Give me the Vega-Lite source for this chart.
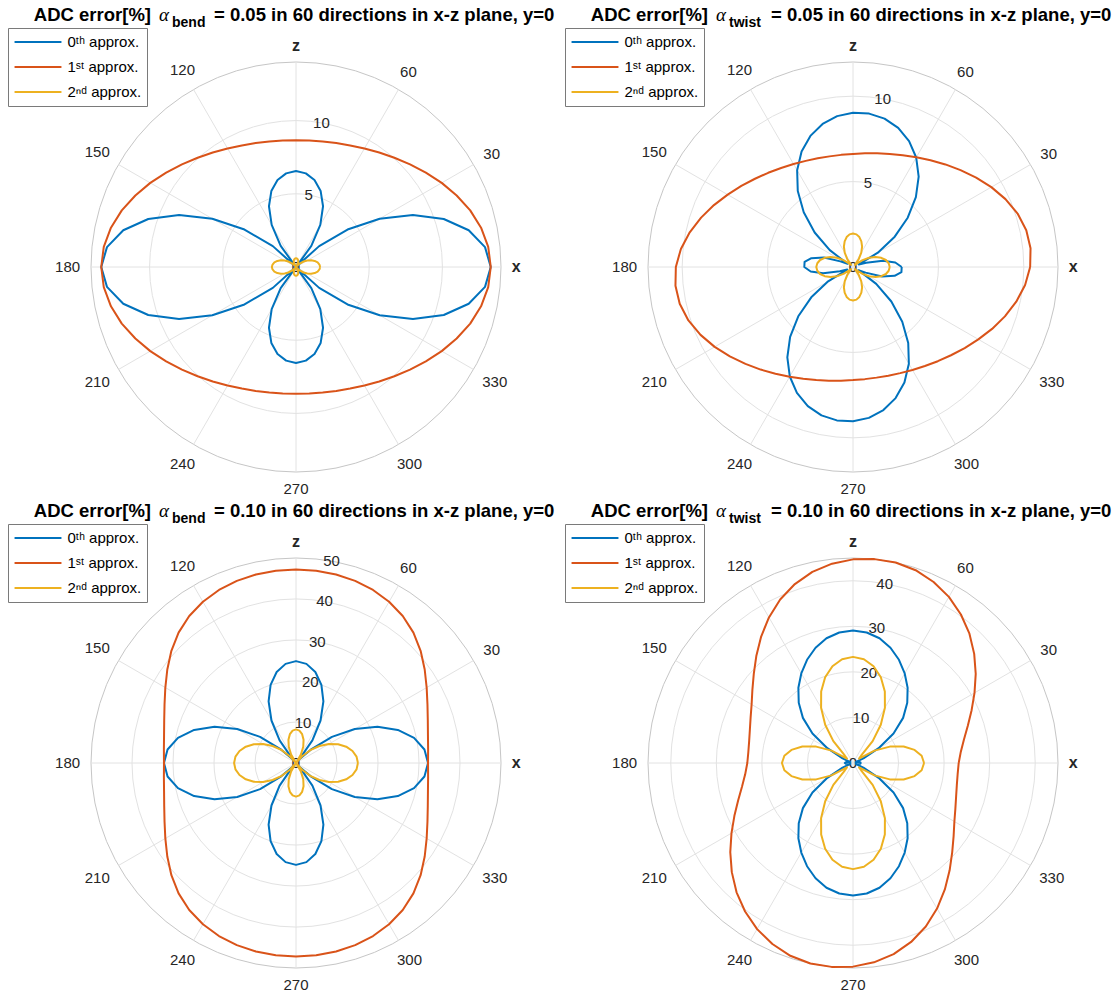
{
"$schema": "https://vega.github.io/schema/vega-lite/v6.json",
"padding": {"left": 7, "top": 6, "right": 5, "bottom": 5},
"background": "white",
"config": {"view": {"stroke": null}, "font": "Liberation Sans"},
"columns": 2,
"spacing": {"row": 86, "column": 147},
"bounds": "flush",
"resolve": {"scale": {"x": "independent", "y": "independent", "color": "independent", "size": "independent"}, "legend": {"color": "independent"}},
"datasets": {
"g": [{"p":1,"r":5,"o":0},{"p":1,"r":10,"o":0},{"p":1,"r":14,"o":1},{"p":2,"r":5,"o":0},{"p":2,"r":10,"o":0},{"p":2,"r":12,"o":1},{"p":3,"r":10,"o":0},{"p":3,"r":20,"o":0},{"p":3,"r":30,"o":0},{"p":3,"r":40,"o":0},{"p":3,"r":50,"o":1},{"p":4,"r":10,"o":0},{"p":4,"r":20,"o":0},{"p":4,"r":30,"o":0},{"p":4,"r":40,"o":0},{"p":4,"r":45,"o":1}],
"sp": [{"t":0},{"t":30},{"t":60},{"t":90},{"t":120},{"t":150},{"t":180},{"t":210},{"t":240},{"t":270},{"t":300},{"t":330}],
"al": [{"t":0,"l":"x","b":1},{"t":30,"l":"30","b":0},{"t":60,"l":"60","b":0},{"t":90,"l":"z","b":1},{"t":120,"l":"120","b":0},{"t":150,"l":"150","b":0},{"t":180,"l":"180","b":0},{"t":210,"l":"210","b":0},{"t":240,"l":"240","b":0},{"t":270,"l":"270","b":0},{"t":300,"l":"300","b":0},{"t":330,"l":"330","b":0}],
"rt": [{"p":1,"v":0,"l":"0"},{"p":1,"v":5,"l":"5"},{"p":1,"v":10,"l":"10"},{"p":2,"v":0,"l":"0"},{"p":2,"v":5,"l":"5"},{"p":2,"v":10,"l":"10"},{"p":3,"v":0,"l":"0"},{"p":3,"v":10,"l":"10"},{"p":3,"v":20,"l":"20"},{"p":3,"v":30,"l":"30"},{"p":3,"v":40,"l":"40"},{"p":3,"v":50,"l":"50"},{"p":4,"v":0,"l":"0"},{"p":4,"v":10,"l":"10"},{"p":4,"v":20,"l":"20"},{"p":4,"v":30,"l":"30"},{"p":4,"v":40,"l":"40"}],
"tt": [{"p":1,"k":"a","l":"ADC error[%]"},{"p":1,"k":"g","l":"α"},{"p":1,"k":"s","l":"bend"},{"p":1,"k":"r","l":"= 0.05 in 60 directions in x-z plane, y=0"},{"p":2,"k":"a","l":"ADC error[%]"},{"p":2,"k":"g","l":"α"},{"p":2,"k":"s","l":"twist"},{"p":2,"k":"r","l":"= 0.05 in 60 directions in x-z plane, y=0"},{"p":3,"k":"a","l":"ADC error[%]"},{"p":3,"k":"g","l":"α"},{"p":3,"k":"s","l":"bend"},{"p":3,"k":"r","l":"= 0.10 in 60 directions in x-z plane, y=0"},{"p":4,"k":"a","l":"ADC error[%]"},{"p":4,"k":"g","l":"α"},{"p":4,"k":"s","l":"twist"},{"p":4,"k":"r","l":"= 0.10 in 60 directions in x-z plane, y=0"}],
"c": [
{"p":1,"s":0,"a":0,"r":13.3},{"p":1,"s":0,"a":6,"r":12.98},{"p":1,"s":0,"a":12,"r":12.06},{"p":1,"s":0,"a":18,"r":10.61},{"p":1,"s":0,"a":24,"r":8.74},{"p":1,"s":0,"a":30,"r":6.6},{"p":1,"s":0,"a":36,"r":4.35},{"p":1,"s":0,"a":42,"r":2.13},{"p":1,"s":0,"a":48,"r":0.05},{"p":1,"s":0,"a":54,"r":1.78},{"p":1,"s":0,"a":60,"r":3.32},{"p":1,"s":0,"a":66,"r":4.54},{"p":1,"s":0,"a":72,"r":5.45},{"p":1,"s":0,"a":78,"r":6.07},{"p":1,"s":0,"a":84,"r":6.43},{"p":1,"s":0,"a":90,"r":6.55},
{"p":1,"s":0,"a":96,"r":6.43},{"p":1,"s":0,"a":102,"r":6.07},{"p":1,"s":0,"a":108,"r":5.45},{"p":1,"s":0,"a":114,"r":4.54},{"p":1,"s":0,"a":120,"r":3.32},{"p":1,"s":0,"a":126,"r":1.78},{"p":1,"s":0,"a":132,"r":0.05},{"p":1,"s":0,"a":138,"r":2.13},{"p":1,"s":0,"a":144,"r":4.35},{"p":1,"s":0,"a":150,"r":6.6},{"p":1,"s":0,"a":156,"r":8.74},{"p":1,"s":0,"a":162,"r":10.61},{"p":1,"s":0,"a":168,"r":12.06},{"p":1,"s":0,"a":174,"r":12.98},{"p":1,"s":0,"a":180,"r":13.3},
{"p":1,"s":0,"a":186,"r":12.98},{"p":1,"s":0,"a":192,"r":12.06},{"p":1,"s":0,"a":198,"r":10.61},{"p":1,"s":0,"a":204,"r":8.74},{"p":1,"s":0,"a":210,"r":6.6},{"p":1,"s":0,"a":216,"r":4.35},{"p":1,"s":0,"a":222,"r":2.13},{"p":1,"s":0,"a":228,"r":0.05},{"p":1,"s":0,"a":234,"r":1.78},{"p":1,"s":0,"a":240,"r":3.32},{"p":1,"s":0,"a":246,"r":4.54},{"p":1,"s":0,"a":252,"r":5.45},{"p":1,"s":0,"a":258,"r":6.07},{"p":1,"s":0,"a":264,"r":6.43},{"p":1,"s":0,"a":270,"r":6.55},
{"p":1,"s":0,"a":276,"r":6.43},{"p":1,"s":0,"a":282,"r":6.07},{"p":1,"s":0,"a":288,"r":5.45},{"p":1,"s":0,"a":294,"r":4.54},{"p":1,"s":0,"a":300,"r":3.32},{"p":1,"s":0,"a":306,"r":1.78},{"p":1,"s":0,"a":312,"r":0.05},{"p":1,"s":0,"a":318,"r":2.13},{"p":1,"s":0,"a":324,"r":4.35},{"p":1,"s":0,"a":330,"r":6.6},{"p":1,"s":0,"a":336,"r":8.74},{"p":1,"s":0,"a":342,"r":10.61},{"p":1,"s":0,"a":348,"r":12.06},{"p":1,"s":0,"a":354,"r":12.98},{"p":1,"s":0,"a":360,"r":13.3},
{"p":1,"s":1,"a":0,"r":13.3},{"p":1,"s":1,"a":6,"r":13.2},{"p":1,"s":1,"a":12,"r":12.92},{"p":1,"s":1,"a":18,"r":12.51},{"p":1,"s":1,"a":24,"r":12.01},{"p":1,"s":1,"a":30,"r":11.49},{"p":1,"s":1,"a":36,"r":10.96},{"p":1,"s":1,"a":42,"r":10.48},{"p":1,"s":1,"a":48,"r":10.04},{"p":1,"s":1,"a":54,"r":9.67},{"p":1,"s":1,"a":60,"r":9.35},{"p":1,"s":1,"a":66,"r":9.09},{"p":1,"s":1,"a":72,"r":8.9},{"p":1,"s":1,"a":78,"r":8.76},{"p":1,"s":1,"a":84,"r":8.68},{"p":1,"s":1,"a":90,"r":8.65},
{"p":1,"s":1,"a":96,"r":8.68},{"p":1,"s":1,"a":102,"r":8.76},{"p":1,"s":1,"a":108,"r":8.9},{"p":1,"s":1,"a":114,"r":9.09},{"p":1,"s":1,"a":120,"r":9.35},{"p":1,"s":1,"a":126,"r":9.67},{"p":1,"s":1,"a":132,"r":10.04},{"p":1,"s":1,"a":138,"r":10.48},{"p":1,"s":1,"a":144,"r":10.96},{"p":1,"s":1,"a":150,"r":11.49},{"p":1,"s":1,"a":156,"r":12.01},{"p":1,"s":1,"a":162,"r":12.51},{"p":1,"s":1,"a":168,"r":12.92},{"p":1,"s":1,"a":174,"r":13.2},{"p":1,"s":1,"a":180,"r":13.3},
{"p":1,"s":1,"a":186,"r":13.2},{"p":1,"s":1,"a":192,"r":12.92},{"p":1,"s":1,"a":198,"r":12.51},{"p":1,"s":1,"a":204,"r":12.01},{"p":1,"s":1,"a":210,"r":11.49},{"p":1,"s":1,"a":216,"r":10.96},{"p":1,"s":1,"a":222,"r":10.48},{"p":1,"s":1,"a":228,"r":10.04},{"p":1,"s":1,"a":234,"r":9.67},{"p":1,"s":1,"a":240,"r":9.35},{"p":1,"s":1,"a":246,"r":9.09},{"p":1,"s":1,"a":252,"r":8.9},{"p":1,"s":1,"a":258,"r":8.76},{"p":1,"s":1,"a":264,"r":8.68},{"p":1,"s":1,"a":270,"r":8.65},
{"p":1,"s":1,"a":276,"r":8.68},{"p":1,"s":1,"a":282,"r":8.76},{"p":1,"s":1,"a":288,"r":8.9},{"p":1,"s":1,"a":294,"r":9.09},{"p":1,"s":1,"a":300,"r":9.35},{"p":1,"s":1,"a":306,"r":9.67},{"p":1,"s":1,"a":312,"r":10.04},{"p":1,"s":1,"a":318,"r":10.48},{"p":1,"s":1,"a":324,"r":10.96},{"p":1,"s":1,"a":330,"r":11.49},{"p":1,"s":1,"a":336,"r":12.01},{"p":1,"s":1,"a":342,"r":12.51},{"p":1,"s":1,"a":348,"r":12.92},{"p":1,"s":1,"a":354,"r":13.2},{"p":1,"s":1,"a":360,"r":13.3},
{"p":1,"s":2,"a":0,"r":1.65},{"p":1,"s":2,"a":6,"r":1.61},{"p":1,"s":2,"a":12,"r":1.51},{"p":1,"s":2,"a":18,"r":1.34},{"p":1,"s":2,"a":24,"r":1.13},{"p":1,"s":2,"a":30,"r":0.89},{"p":1,"s":2,"a":36,"r":0.64},{"p":1,"s":2,"a":42,"r":0.38},{"p":1,"s":2,"a":48,"r":0.15},{"p":1,"s":2,"a":54,"r":0.06},{"p":1,"s":2,"a":60,"r":0.23},{"p":1,"s":2,"a":66,"r":0.37},{"p":1,"s":2,"a":72,"r":0.48},{"p":1,"s":2,"a":78,"r":0.55},{"p":1,"s":2,"a":84,"r":0.59},{"p":1,"s":2,"a":90,"r":0.6},
{"p":1,"s":2,"a":96,"r":0.59},{"p":1,"s":2,"a":102,"r":0.55},{"p":1,"s":2,"a":108,"r":0.48},{"p":1,"s":2,"a":114,"r":0.37},{"p":1,"s":2,"a":120,"r":0.23},{"p":1,"s":2,"a":126,"r":0.06},{"p":1,"s":2,"a":132,"r":0.15},{"p":1,"s":2,"a":138,"r":0.38},{"p":1,"s":2,"a":144,"r":0.64},{"p":1,"s":2,"a":150,"r":0.89},{"p":1,"s":2,"a":156,"r":1.13},{"p":1,"s":2,"a":162,"r":1.34},{"p":1,"s":2,"a":168,"r":1.51},{"p":1,"s":2,"a":174,"r":1.61},{"p":1,"s":2,"a":180,"r":1.65},
{"p":1,"s":2,"a":186,"r":1.61},{"p":1,"s":2,"a":192,"r":1.51},{"p":1,"s":2,"a":198,"r":1.34},{"p":1,"s":2,"a":204,"r":1.13},{"p":1,"s":2,"a":210,"r":0.89},{"p":1,"s":2,"a":216,"r":0.64},{"p":1,"s":2,"a":222,"r":0.38},{"p":1,"s":2,"a":228,"r":0.15},{"p":1,"s":2,"a":234,"r":0.06},{"p":1,"s":2,"a":240,"r":0.23},{"p":1,"s":2,"a":246,"r":0.37},{"p":1,"s":2,"a":252,"r":0.48},{"p":1,"s":2,"a":258,"r":0.55},{"p":1,"s":2,"a":264,"r":0.59},{"p":1,"s":2,"a":270,"r":0.6},
{"p":1,"s":2,"a":276,"r":0.59},{"p":1,"s":2,"a":282,"r":0.55},{"p":1,"s":2,"a":288,"r":0.48},{"p":1,"s":2,"a":294,"r":0.37},{"p":1,"s":2,"a":300,"r":0.23},{"p":1,"s":2,"a":306,"r":0.06},{"p":1,"s":2,"a":312,"r":0.15},{"p":1,"s":2,"a":318,"r":0.38},{"p":1,"s":2,"a":324,"r":0.64},{"p":1,"s":2,"a":330,"r":0.89},{"p":1,"s":2,"a":336,"r":1.13},{"p":1,"s":2,"a":342,"r":1.34},{"p":1,"s":2,"a":348,"r":1.51},{"p":1,"s":2,"a":354,"r":1.61},{"p":1,"s":2,"a":360,"r":1.65},
{"p":2,"s":0,"a":0,"r":2.85},{"p":2,"s":0,"a":6,"r":2.49},{"p":2,"s":0,"a":12,"r":1.79},{"p":2,"s":0,"a":18,"r":0.81},{"p":2,"s":0,"a":24,"r":0.37},{"p":2,"s":0,"a":30,"r":1.68},{"p":2,"s":0,"a":36,"r":3.02},{"p":2,"s":0,"a":42,"r":4.31},{"p":2,"s":0,"a":48,"r":5.5},{"p":2,"s":0,"a":54,"r":6.54},{"p":2,"s":0,"a":60,"r":7.4},{"p":2,"s":0,"a":66,"r":8.07},{"p":2,"s":0,"a":72,"r":8.56},{"p":2,"s":0,"a":78,"r":8.88},{"p":2,"s":0,"a":84,"r":9.03},{"p":2,"s":0,"a":90,"r":9.03},
{"p":2,"s":0,"a":96,"r":8.88},{"p":2,"s":0,"a":102,"r":8.56},{"p":2,"s":0,"a":108,"r":8.07},{"p":2,"s":0,"a":114,"r":7.4},{"p":2,"s":0,"a":120,"r":6.54},{"p":2,"s":0,"a":126,"r":5.5},{"p":2,"s":0,"a":132,"r":4.31},{"p":2,"s":0,"a":138,"r":3.02},{"p":2,"s":0,"a":144,"r":1.68},{"p":2,"s":0,"a":150,"r":0.37},{"p":2,"s":0,"a":156,"r":0.81},{"p":2,"s":0,"a":162,"r":1.79},{"p":2,"s":0,"a":168,"r":2.49},{"p":2,"s":0,"a":174,"r":2.85},
{"p":2,"s":0,"a":180,"r":2.85},{"p":2,"s":0,"a":186,"r":2.49},{"p":2,"s":0,"a":192,"r":1.79},{"p":2,"s":0,"a":198,"r":0.81},{"p":2,"s":0,"a":204,"r":0.37},{"p":2,"s":0,"a":210,"r":1.68},{"p":2,"s":0,"a":216,"r":3.02},{"p":2,"s":0,"a":222,"r":4.31},{"p":2,"s":0,"a":228,"r":5.5},{"p":2,"s":0,"a":234,"r":6.54},{"p":2,"s":0,"a":240,"r":7.4},{"p":2,"s":0,"a":246,"r":8.07},{"p":2,"s":0,"a":252,"r":8.56},{"p":2,"s":0,"a":258,"r":8.88},{"p":2,"s":0,"a":264,"r":9.03},{"p":2,"s":0,"a":270,"r":9.03},
{"p":2,"s":0,"a":276,"r":8.88},{"p":2,"s":0,"a":282,"r":8.56},{"p":2,"s":0,"a":288,"r":8.07},{"p":2,"s":0,"a":294,"r":7.4},{"p":2,"s":0,"a":300,"r":6.54},{"p":2,"s":0,"a":306,"r":5.5},{"p":2,"s":0,"a":312,"r":4.31},{"p":2,"s":0,"a":318,"r":3.02},{"p":2,"s":0,"a":324,"r":1.68},{"p":2,"s":0,"a":330,"r":0.37},{"p":2,"s":0,"a":336,"r":0.81},{"p":2,"s":0,"a":342,"r":1.79},{"p":2,"s":0,"a":348,"r":2.49},{"p":2,"s":0,"a":354,"r":2.85},{"p":2,"s":0,"a":360,"r":2.85},
{"p":2,"s":1,"a":0,"r":10.37},{"p":2,"s":1,"a":6,"r":10.45},{"p":2,"s":1,"a":12,"r":10.37},{"p":2,"s":1,"a":18,"r":10.13},{"p":2,"s":1,"a":24,"r":9.77},{"p":2,"s":1,"a":30,"r":9.35},{"p":2,"s":1,"a":36,"r":8.91},{"p":2,"s":1,"a":42,"r":8.47},{"p":2,"s":1,"a":48,"r":8.08},{"p":2,"s":1,"a":54,"r":7.72},{"p":2,"s":1,"a":60,"r":7.42},{"p":2,"s":1,"a":66,"r":7.16},{"p":2,"s":1,"a":72,"r":6.96},{"p":2,"s":1,"a":78,"r":6.8},{"p":2,"s":1,"a":84,"r":6.69},{"p":2,"s":1,"a":90,"r":6.62},
{"p":2,"s":1,"a":96,"r":6.6},{"p":2,"s":1,"a":102,"r":6.62},{"p":2,"s":1,"a":108,"r":6.69},{"p":2,"s":1,"a":114,"r":6.8},{"p":2,"s":1,"a":120,"r":6.96},{"p":2,"s":1,"a":126,"r":7.16},{"p":2,"s":1,"a":132,"r":7.42},{"p":2,"s":1,"a":138,"r":7.72},{"p":2,"s":1,"a":144,"r":8.08},{"p":2,"s":1,"a":150,"r":8.47},{"p":2,"s":1,"a":156,"r":8.91},{"p":2,"s":1,"a":162,"r":9.35},{"p":2,"s":1,"a":168,"r":9.77},{"p":2,"s":1,"a":174,"r":10.13},
{"p":2,"s":1,"a":180,"r":10.37},{"p":2,"s":1,"a":186,"r":10.45},{"p":2,"s":1,"a":192,"r":10.37},{"p":2,"s":1,"a":198,"r":10.13},{"p":2,"s":1,"a":204,"r":9.77},{"p":2,"s":1,"a":210,"r":9.35},{"p":2,"s":1,"a":216,"r":8.91},{"p":2,"s":1,"a":222,"r":8.47},{"p":2,"s":1,"a":228,"r":8.08},{"p":2,"s":1,"a":234,"r":7.72},{"p":2,"s":1,"a":240,"r":7.42},{"p":2,"s":1,"a":246,"r":7.16},{"p":2,"s":1,"a":252,"r":6.96},{"p":2,"s":1,"a":258,"r":6.8},{"p":2,"s":1,"a":264,"r":6.69},{"p":2,"s":1,"a":270,"r":6.62},
{"p":2,"s":1,"a":276,"r":6.6},{"p":2,"s":1,"a":282,"r":6.62},{"p":2,"s":1,"a":288,"r":6.69},{"p":2,"s":1,"a":294,"r":6.8},{"p":2,"s":1,"a":300,"r":6.96},{"p":2,"s":1,"a":306,"r":7.16},{"p":2,"s":1,"a":312,"r":7.42},{"p":2,"s":1,"a":318,"r":7.72},{"p":2,"s":1,"a":324,"r":8.08},{"p":2,"s":1,"a":330,"r":8.47},{"p":2,"s":1,"a":336,"r":8.91},{"p":2,"s":1,"a":342,"r":9.35},{"p":2,"s":1,"a":348,"r":9.77},{"p":2,"s":1,"a":354,"r":10.13},{"p":2,"s":1,"a":360,"r":10.37},
{"p":2,"s":2,"a":0,"r":2.15},{"p":2,"s":2,"a":6,"r":2.1},{"p":2,"s":2,"a":12,"r":1.97},{"p":2,"s":2,"a":18,"r":1.74},{"p":2,"s":2,"a":24,"r":1.44},{"p":2,"s":2,"a":30,"r":1.09},{"p":2,"s":2,"a":36,"r":0.69},{"p":2,"s":2,"a":42,"r":0.26},{"p":2,"s":2,"a":48,"r":0.17},{"p":2,"s":2,"a":54,"r":0.58},{"p":2,"s":2,"a":60,"r":0.97},{"p":2,"s":2,"a":66,"r":1.31},{"p":2,"s":2,"a":72,"r":1.58},{"p":2,"s":2,"a":78,"r":1.79},{"p":2,"s":2,"a":84,"r":1.92},{"p":2,"s":2,"a":90,"r":1.96},
{"p":2,"s":2,"a":96,"r":1.92},{"p":2,"s":2,"a":102,"r":1.79},{"p":2,"s":2,"a":108,"r":1.58},{"p":2,"s":2,"a":114,"r":1.31},{"p":2,"s":2,"a":120,"r":0.97},{"p":2,"s":2,"a":126,"r":0.58},{"p":2,"s":2,"a":132,"r":0.17},{"p":2,"s":2,"a":138,"r":0.26},{"p":2,"s":2,"a":144,"r":0.69},{"p":2,"s":2,"a":150,"r":1.09},{"p":2,"s":2,"a":156,"r":1.44},{"p":2,"s":2,"a":162,"r":1.74},{"p":2,"s":2,"a":168,"r":1.97},{"p":2,"s":2,"a":174,"r":2.1},{"p":2,"s":2,"a":180,"r":2.15},
{"p":2,"s":2,"a":186,"r":2.1},{"p":2,"s":2,"a":192,"r":1.97},{"p":2,"s":2,"a":198,"r":1.74},{"p":2,"s":2,"a":204,"r":1.44},{"p":2,"s":2,"a":210,"r":1.09},{"p":2,"s":2,"a":216,"r":0.69},{"p":2,"s":2,"a":222,"r":0.26},{"p":2,"s":2,"a":228,"r":0.17},{"p":2,"s":2,"a":234,"r":0.58},{"p":2,"s":2,"a":240,"r":0.97},{"p":2,"s":2,"a":246,"r":1.31},{"p":2,"s":2,"a":252,"r":1.58},{"p":2,"s":2,"a":258,"r":1.79},{"p":2,"s":2,"a":264,"r":1.92},{"p":2,"s":2,"a":270,"r":1.96},
{"p":2,"s":2,"a":276,"r":1.92},{"p":2,"s":2,"a":282,"r":1.79},{"p":2,"s":2,"a":288,"r":1.58},{"p":2,"s":2,"a":294,"r":1.31},{"p":2,"s":2,"a":300,"r":0.97},{"p":2,"s":2,"a":306,"r":0.58},{"p":2,"s":2,"a":312,"r":0.17},{"p":2,"s":2,"a":318,"r":0.26},{"p":2,"s":2,"a":324,"r":0.69},{"p":2,"s":2,"a":330,"r":1.09},{"p":2,"s":2,"a":336,"r":1.44},{"p":2,"s":2,"a":342,"r":1.74},{"p":2,"s":2,"a":348,"r":1.97},{"p":2,"s":2,"a":354,"r":2.1},{"p":2,"s":2,"a":360,"r":2.15},
{"p":3,"s":0,"a":0,"r":32.2},{"p":3,"s":0,"a":6,"r":31.5},{"p":3,"s":0,"a":12,"r":29.43},{"p":3,"s":0,"a":18,"r":26.12},{"p":3,"s":0,"a":24,"r":21.75},{"p":3,"s":0,"a":30,"r":16.56},{"p":3,"s":0,"a":36,"r":10.83},{"p":3,"s":0,"a":42,"r":4.84},{"p":3,"s":0,"a":48,"r":1.12},{"p":3,"s":0,"a":54,"r":6.8},{"p":3,"s":0,"a":60,"r":11.97},{"p":3,"s":0,"a":66,"r":16.43},{"p":3,"s":0,"a":72,"r":20.04},{"p":3,"s":0,"a":78,"r":22.69},{"p":3,"s":0,"a":84,"r":24.31},{"p":3,"s":0,"a":90,"r":24.85},
{"p":3,"s":0,"a":96,"r":24.31},{"p":3,"s":0,"a":102,"r":22.69},{"p":3,"s":0,"a":108,"r":20.04},{"p":3,"s":0,"a":114,"r":16.43},{"p":3,"s":0,"a":120,"r":11.97},{"p":3,"s":0,"a":126,"r":6.8},{"p":3,"s":0,"a":132,"r":1.12},{"p":3,"s":0,"a":138,"r":4.84},{"p":3,"s":0,"a":144,"r":10.83},{"p":3,"s":0,"a":150,"r":16.56},{"p":3,"s":0,"a":156,"r":21.75},{"p":3,"s":0,"a":162,"r":26.12},{"p":3,"s":0,"a":168,"r":29.43},{"p":3,"s":0,"a":174,"r":31.5},{"p":3,"s":0,"a":180,"r":32.2},
{"p":3,"s":0,"a":186,"r":31.5},{"p":3,"s":0,"a":192,"r":29.43},{"p":3,"s":0,"a":198,"r":26.12},{"p":3,"s":0,"a":204,"r":21.75},{"p":3,"s":0,"a":210,"r":16.56},{"p":3,"s":0,"a":216,"r":10.83},{"p":3,"s":0,"a":222,"r":4.84},{"p":3,"s":0,"a":228,"r":1.12},{"p":3,"s":0,"a":234,"r":6.8},{"p":3,"s":0,"a":240,"r":11.97},{"p":3,"s":0,"a":246,"r":16.43},{"p":3,"s":0,"a":252,"r":20.04},{"p":3,"s":0,"a":258,"r":22.69},{"p":3,"s":0,"a":264,"r":24.31},{"p":3,"s":0,"a":270,"r":24.85},
{"p":3,"s":0,"a":276,"r":24.31},{"p":3,"s":0,"a":282,"r":22.69},{"p":3,"s":0,"a":288,"r":20.04},{"p":3,"s":0,"a":294,"r":16.43},{"p":3,"s":0,"a":300,"r":11.97},{"p":3,"s":0,"a":306,"r":6.8},{"p":3,"s":0,"a":312,"r":1.12},{"p":3,"s":0,"a":318,"r":4.84},{"p":3,"s":0,"a":324,"r":10.83},{"p":3,"s":0,"a":330,"r":16.56},{"p":3,"s":0,"a":336,"r":21.75},{"p":3,"s":0,"a":342,"r":26.12},{"p":3,"s":0,"a":348,"r":29.43},{"p":3,"s":0,"a":354,"r":31.5},{"p":3,"s":0,"a":360,"r":32.2},
{"p":3,"s":1,"a":0,"r":32.2},{"p":3,"s":1,"a":6,"r":32.4},{"p":3,"s":1,"a":12,"r":32.9},{"p":3,"s":1,"a":18,"r":33.8},{"p":3,"s":1,"a":24,"r":35.1},{"p":3,"s":1,"a":30,"r":36.8},{"p":3,"s":1,"a":36,"r":38.8},{"p":3,"s":1,"a":42,"r":40.9},{"p":3,"s":1,"a":48,"r":42.8},{"p":3,"s":1,"a":54,"r":44.3},{"p":3,"s":1,"a":60,"r":45.4},{"p":3,"s":1,"a":66,"r":46.2},{"p":3,"s":1,"a":72,"r":46.7},{"p":3,"s":1,"a":78,"r":47.0},{"p":3,"s":1,"a":84,"r":47.15},{"p":3,"s":1,"a":90,"r":47.2},
{"p":3,"s":1,"a":96,"r":47.15},{"p":3,"s":1,"a":102,"r":47.0},{"p":3,"s":1,"a":108,"r":46.7},{"p":3,"s":1,"a":114,"r":46.2},{"p":3,"s":1,"a":120,"r":45.4},{"p":3,"s":1,"a":126,"r":44.3},{"p":3,"s":1,"a":132,"r":42.8},{"p":3,"s":1,"a":138,"r":40.9},{"p":3,"s":1,"a":144,"r":38.8},{"p":3,"s":1,"a":150,"r":36.8},{"p":3,"s":1,"a":156,"r":35.1},{"p":3,"s":1,"a":162,"r":33.8},{"p":3,"s":1,"a":168,"r":32.9},{"p":3,"s":1,"a":174,"r":32.4},{"p":3,"s":1,"a":180,"r":32.2},
{"p":3,"s":1,"a":186,"r":32.4},{"p":3,"s":1,"a":192,"r":32.9},{"p":3,"s":1,"a":198,"r":33.8},{"p":3,"s":1,"a":204,"r":35.1},{"p":3,"s":1,"a":210,"r":36.8},{"p":3,"s":1,"a":216,"r":38.8},{"p":3,"s":1,"a":222,"r":40.9},{"p":3,"s":1,"a":228,"r":42.8},{"p":3,"s":1,"a":234,"r":44.3},{"p":3,"s":1,"a":240,"r":45.4},{"p":3,"s":1,"a":246,"r":46.2},{"p":3,"s":1,"a":252,"r":46.7},{"p":3,"s":1,"a":258,"r":47.0},{"p":3,"s":1,"a":264,"r":47.15},{"p":3,"s":1,"a":270,"r":47.2},
{"p":3,"s":1,"a":276,"r":47.15},{"p":3,"s":1,"a":282,"r":47.0},{"p":3,"s":1,"a":288,"r":46.7},{"p":3,"s":1,"a":294,"r":46.2},{"p":3,"s":1,"a":300,"r":45.4},{"p":3,"s":1,"a":306,"r":44.3},{"p":3,"s":1,"a":312,"r":42.8},{"p":3,"s":1,"a":318,"r":40.9},{"p":3,"s":1,"a":324,"r":38.8},{"p":3,"s":1,"a":330,"r":36.8},{"p":3,"s":1,"a":336,"r":35.1},{"p":3,"s":1,"a":342,"r":33.8},{"p":3,"s":1,"a":348,"r":32.9},{"p":3,"s":1,"a":354,"r":32.4},{"p":3,"s":1,"a":360,"r":32.2},
{"p":3,"s":2,"a":0,"r":15.1},{"p":3,"s":2,"a":6,"r":14.85},{"p":3,"s":2,"a":12,"r":14.09},{"p":3,"s":2,"a":18,"r":12.88},{"p":3,"s":2,"a":24,"r":11.25},{"p":3,"s":2,"a":30,"r":9.28},{"p":3,"s":2,"a":36,"r":7.05},{"p":3,"s":2,"a":42,"r":4.67},{"p":3,"s":2,"a":48,"r":2.23},{"p":3,"s":2,"a":54,"r":0.15},{"p":3,"s":2,"a":60,"r":2.38},{"p":3,"s":2,"a":66,"r":4.35},{"p":3,"s":2,"a":72,"r":5.97},{"p":3,"s":2,"a":78,"r":7.19},{"p":3,"s":2,"a":84,"r":7.94},{"p":3,"s":2,"a":90,"r":8.2},
{"p":3,"s":2,"a":96,"r":7.94},{"p":3,"s":2,"a":102,"r":7.19},{"p":3,"s":2,"a":108,"r":5.97},{"p":3,"s":2,"a":114,"r":4.35},{"p":3,"s":2,"a":120,"r":2.38},{"p":3,"s":2,"a":126,"r":0.15},{"p":3,"s":2,"a":132,"r":2.23},{"p":3,"s":2,"a":138,"r":4.67},{"p":3,"s":2,"a":144,"r":7.05},{"p":3,"s":2,"a":150,"r":9.28},{"p":3,"s":2,"a":156,"r":11.25},{"p":3,"s":2,"a":162,"r":12.88},{"p":3,"s":2,"a":168,"r":14.09},{"p":3,"s":2,"a":174,"r":14.85},{"p":3,"s":2,"a":180,"r":15.1},
{"p":3,"s":2,"a":186,"r":14.85},{"p":3,"s":2,"a":192,"r":14.09},{"p":3,"s":2,"a":198,"r":12.88},{"p":3,"s":2,"a":204,"r":11.25},{"p":3,"s":2,"a":210,"r":9.28},{"p":3,"s":2,"a":216,"r":7.05},{"p":3,"s":2,"a":222,"r":4.67},{"p":3,"s":2,"a":228,"r":2.23},{"p":3,"s":2,"a":234,"r":0.15},{"p":3,"s":2,"a":240,"r":2.38},{"p":3,"s":2,"a":246,"r":4.35},{"p":3,"s":2,"a":252,"r":5.97},{"p":3,"s":2,"a":258,"r":7.19},{"p":3,"s":2,"a":264,"r":7.94},{"p":3,"s":2,"a":270,"r":8.2},
{"p":3,"s":2,"a":276,"r":7.94},{"p":3,"s":2,"a":282,"r":7.19},{"p":3,"s":2,"a":288,"r":5.97},{"p":3,"s":2,"a":294,"r":4.35},{"p":3,"s":2,"a":300,"r":2.38},{"p":3,"s":2,"a":306,"r":0.15},{"p":3,"s":2,"a":312,"r":2.23},{"p":3,"s":2,"a":318,"r":4.67},{"p":3,"s":2,"a":324,"r":7.05},{"p":3,"s":2,"a":330,"r":9.28},{"p":3,"s":2,"a":336,"r":11.25},{"p":3,"s":2,"a":342,"r":12.88},{"p":3,"s":2,"a":348,"r":14.09},{"p":3,"s":2,"a":354,"r":14.85},{"p":3,"s":2,"a":360,"r":15.1},
{"p":4,"s":0,"a":0,"r":1.8},{"p":4,"s":0,"a":6,"r":1.6},{"p":4,"s":0,"a":12,"r":1.2},{"p":4,"s":0,"a":18,"r":0.6},{"p":4,"s":0,"a":24,"r":2.5},{"p":4,"s":0,"a":30,"r":6.5},{"p":4,"s":0,"a":36,"r":11.0},{"p":4,"s":0,"a":42,"r":14.8},{"p":4,"s":0,"a":48,"r":17.8},{"p":4,"s":0,"a":54,"r":20.4},{"p":4,"s":0,"a":60,"r":22.7},{"p":4,"s":0,"a":66,"r":24.8},{"p":4,"s":0,"a":72,"r":26.6},{"p":4,"s":0,"a":78,"r":28.0},{"p":4,"s":0,"a":84,"r":28.8},{"p":4,"s":0,"a":90,"r":29.1},
{"p":4,"s":0,"a":96,"r":28.8},{"p":4,"s":0,"a":102,"r":28.0},{"p":4,"s":0,"a":108,"r":26.6},{"p":4,"s":0,"a":114,"r":24.8},{"p":4,"s":0,"a":120,"r":22.7},{"p":4,"s":0,"a":126,"r":20.4},{"p":4,"s":0,"a":132,"r":17.8},{"p":4,"s":0,"a":138,"r":14.8},{"p":4,"s":0,"a":144,"r":11.0},{"p":4,"s":0,"a":150,"r":6.5},{"p":4,"s":0,"a":156,"r":2.5},{"p":4,"s":0,"a":162,"r":0.6},{"p":4,"s":0,"a":168,"r":1.2},{"p":4,"s":0,"a":174,"r":1.6},{"p":4,"s":0,"a":180,"r":1.8},
{"p":4,"s":0,"a":186,"r":1.6},{"p":4,"s":0,"a":192,"r":1.2},{"p":4,"s":0,"a":198,"r":0.6},{"p":4,"s":0,"a":204,"r":2.5},{"p":4,"s":0,"a":210,"r":6.5},{"p":4,"s":0,"a":216,"r":11.0},{"p":4,"s":0,"a":222,"r":14.8},{"p":4,"s":0,"a":228,"r":17.8},{"p":4,"s":0,"a":234,"r":20.4},{"p":4,"s":0,"a":240,"r":22.7},{"p":4,"s":0,"a":246,"r":24.8},{"p":4,"s":0,"a":252,"r":26.6},{"p":4,"s":0,"a":258,"r":28.0},{"p":4,"s":0,"a":264,"r":28.8},{"p":4,"s":0,"a":270,"r":29.1},
{"p":4,"s":0,"a":276,"r":28.8},{"p":4,"s":0,"a":282,"r":28.0},{"p":4,"s":0,"a":288,"r":26.6},{"p":4,"s":0,"a":294,"r":24.8},{"p":4,"s":0,"a":300,"r":22.7},{"p":4,"s":0,"a":306,"r":20.4},{"p":4,"s":0,"a":312,"r":17.8},{"p":4,"s":0,"a":318,"r":14.8},{"p":4,"s":0,"a":324,"r":11.0},{"p":4,"s":0,"a":330,"r":6.5},{"p":4,"s":0,"a":336,"r":2.5},{"p":4,"s":0,"a":342,"r":0.6},{"p":4,"s":0,"a":348,"r":1.2},{"p":4,"s":0,"a":354,"r":1.6},{"p":4,"s":0,"a":360,"r":1.8},
{"p":4,"s":1,"a":0,"r":23.2},{"p":4,"s":1,"a":6,"r":23.8},{"p":4,"s":1,"a":12,"r":24.9},{"p":4,"s":1,"a":18,"r":26.5},{"p":4,"s":1,"a":24,"r":28.5},{"p":4,"s":1,"a":30,"r":30.8},{"p":4,"s":1,"a":36,"r":33.3},{"p":4,"s":1,"a":42,"r":35.8},{"p":4,"s":1,"a":48,"r":38.2},{"p":4,"s":1,"a":54,"r":40.3},{"p":4,"s":1,"a":60,"r":42.1},{"p":4,"s":1,"a":66,"r":43.5},{"p":4,"s":1,"a":72,"r":44.5},{"p":4,"s":1,"a":78,"r":45.0},{"p":4,"s":1,"a":84,"r":45.0},{"p":4,"s":1,"a":90,"r":44.7},
{"p":4,"s":1,"a":96,"r":44.0},{"p":4,"s":1,"a":102,"r":42.9},{"p":4,"s":1,"a":108,"r":41.3},{"p":4,"s":1,"a":114,"r":39.3},{"p":4,"s":1,"a":120,"r":36.9},{"p":4,"s":1,"a":126,"r":34.3},{"p":4,"s":1,"a":132,"r":31.7},{"p":4,"s":1,"a":138,"r":29.3},{"p":4,"s":1,"a":144,"r":27.3},{"p":4,"s":1,"a":150,"r":25.7},{"p":4,"s":1,"a":156,"r":24.6},{"p":4,"s":1,"a":162,"r":23.8},{"p":4,"s":1,"a":168,"r":23.3},{"p":4,"s":1,"a":174,"r":23.1},
{"p":4,"s":1,"a":180,"r":23.2},{"p":4,"s":1,"a":186,"r":23.8},{"p":4,"s":1,"a":192,"r":24.9},{"p":4,"s":1,"a":198,"r":26.5},{"p":4,"s":1,"a":204,"r":28.5},{"p":4,"s":1,"a":210,"r":30.8},{"p":4,"s":1,"a":216,"r":33.3},{"p":4,"s":1,"a":222,"r":35.8},{"p":4,"s":1,"a":228,"r":38.2},{"p":4,"s":1,"a":234,"r":40.3},{"p":4,"s":1,"a":240,"r":42.1},{"p":4,"s":1,"a":246,"r":43.5},{"p":4,"s":1,"a":252,"r":44.5},{"p":4,"s":1,"a":258,"r":45.0},{"p":4,"s":1,"a":264,"r":45.0},{"p":4,"s":1,"a":270,"r":44.7},
{"p":4,"s":1,"a":276,"r":44.0},{"p":4,"s":1,"a":282,"r":42.9},{"p":4,"s":1,"a":288,"r":41.3},{"p":4,"s":1,"a":294,"r":39.3},{"p":4,"s":1,"a":300,"r":36.9},{"p":4,"s":1,"a":306,"r":34.3},{"p":4,"s":1,"a":312,"r":31.7},{"p":4,"s":1,"a":318,"r":29.3},{"p":4,"s":1,"a":324,"r":27.3},{"p":4,"s":1,"a":330,"r":25.7},{"p":4,"s":1,"a":336,"r":24.6},{"p":4,"s":1,"a":342,"r":23.8},{"p":4,"s":1,"a":348,"r":23.3},{"p":4,"s":1,"a":354,"r":23.1},{"p":4,"s":1,"a":360,"r":23.2},
{"p":4,"s":2,"a":0,"r":15.6},{"p":4,"s":2,"a":6,"r":15.15},{"p":4,"s":2,"a":12,"r":13.82},{"p":4,"s":2,"a":18,"r":11.69},{"p":4,"s":2,"a":24,"r":8.85},{"p":4,"s":2,"a":30,"r":5.44},{"p":4,"s":2,"a":36,"r":1.64},{"p":4,"s":2,"a":42,"r":2.39},{"p":4,"s":2,"a":48,"r":6.45},{"p":4,"s":2,"a":54,"r":10.38},{"p":4,"s":2,"a":60,"r":14.01},{"p":4,"s":2,"a":66,"r":17.18},{"p":4,"s":2,"a":72,"r":19.78},{"p":4,"s":2,"a":78,"r":21.71},{"p":4,"s":2,"a":84,"r":22.9},{"p":4,"s":2,"a":90,"r":23.3},
{"p":4,"s":2,"a":96,"r":22.9},{"p":4,"s":2,"a":102,"r":21.71},{"p":4,"s":2,"a":108,"r":19.78},{"p":4,"s":2,"a":114,"r":17.18},{"p":4,"s":2,"a":120,"r":14.01},{"p":4,"s":2,"a":126,"r":10.38},{"p":4,"s":2,"a":132,"r":6.45},{"p":4,"s":2,"a":138,"r":2.39},{"p":4,"s":2,"a":144,"r":1.64},{"p":4,"s":2,"a":150,"r":5.44},{"p":4,"s":2,"a":156,"r":8.85},{"p":4,"s":2,"a":162,"r":11.69},{"p":4,"s":2,"a":168,"r":13.82},{"p":4,"s":2,"a":174,"r":15.15},{"p":4,"s":2,"a":180,"r":15.6},
{"p":4,"s":2,"a":186,"r":15.15},{"p":4,"s":2,"a":192,"r":13.82},{"p":4,"s":2,"a":198,"r":11.69},{"p":4,"s":2,"a":204,"r":8.85},{"p":4,"s":2,"a":210,"r":5.44},{"p":4,"s":2,"a":216,"r":1.64},{"p":4,"s":2,"a":222,"r":2.39},{"p":4,"s":2,"a":228,"r":6.45},{"p":4,"s":2,"a":234,"r":10.38},{"p":4,"s":2,"a":240,"r":14.01},{"p":4,"s":2,"a":246,"r":17.18},{"p":4,"s":2,"a":252,"r":19.78},{"p":4,"s":2,"a":258,"r":21.71},{"p":4,"s":2,"a":264,"r":22.9},{"p":4,"s":2,"a":270,"r":23.3},
{"p":4,"s":2,"a":276,"r":22.9},{"p":4,"s":2,"a":282,"r":21.71},{"p":4,"s":2,"a":288,"r":19.78},{"p":4,"s":2,"a":294,"r":17.18},{"p":4,"s":2,"a":300,"r":14.01},{"p":4,"s":2,"a":306,"r":10.38},{"p":4,"s":2,"a":312,"r":6.45},{"p":4,"s":2,"a":318,"r":2.39},{"p":4,"s":2,"a":324,"r":1.64},{"p":4,"s":2,"a":330,"r":5.44},{"p":4,"s":2,"a":336,"r":8.85},{"p":4,"s":2,"a":342,"r":11.69},{"p":4,"s":2,"a":348,"r":13.82},{"p":4,"s":2,"a":354,"r":15.15},{"p":4,"s":2,"a":360,"r":15.6}
]
},
"concat": [
{"width": 410, "height": 410, "layer": [
 {"data": {"name": "g"}, "transform": [{"filter": "datum.p == 1"}, {"calculate": "0", "as": "cx"}], "mark": {"type": "point", "shape": "circle", "filled": false, "opacity": 1, "strokeWidth": 1}, "encoding": {"x": {"field": "cx", "type": "quantitative", "scale": {"domain": [-14, 14], "nice": false, "zero": false}, "axis": null}, "y": {"field": "cx", "type": "quantitative", "scale": {"domain": [-14, 14], "nice": false, "zero": false}, "axis": null}, "size": {"field": "r", "type": "quantitative", "scale": {"type": "pow", "exponent": 2, "domain": [0, 14], "range": [0, 168100], "zero": true, "nice": false}, "legend": null}, "stroke": {"condition": {"test": "datum.o == 1", "value": "#c6c6c6"}, "value": "#e2e2e2"}}},
 {"data": {"name": "sp"}, "transform": [{"calculate": "[0, 1]", "as": "k"}, {"flatten": ["k"]}, {"calculate": "datum.k*14*cos(datum.t*PI/180)", "as": "x"}, {"calculate": "datum.k*14*sin(datum.t*PI/180)", "as": "y"}], "mark": {"type": "line", "stroke": "#e2e2e2", "strokeWidth": 1}, "encoding": {"x": {"field": "x", "type": "quantitative", "scale": {"domain": [-14, 14], "nice": false, "zero": false}, "axis": null}, "y": {"field": "y", "type": "quantitative", "scale": {"domain": [-14, 14], "nice": false, "zero": false}, "axis": null}, "detail": {"field": "t", "type": "nominal"}, "order": {"field": "k", "type": "quantitative"}}},
 {"data": {"name": "al"}, "transform": [{"filter": "datum.b == 0"}, {"calculate": "14*(216+abs(cos(datum.t*PI/180))*4.15*length(datum.l)+abs(sin(datum.t*PI/180))*5.5)/205", "as": "rr"}, {"calculate": "datum.rr*cos(datum.t*PI/180)", "as": "x"}, {"calculate": "datum.rr*sin(datum.t*PI/180)", "as": "y"}], "mark": {"type": "text", "fontSize": 15, "color": "#262626"}, "encoding": {"x": {"field": "x", "type": "quantitative", "scale": {"domain": [-14, 14], "nice": false, "zero": false}, "axis": null}, "y": {"field": "y", "type": "quantitative", "scale": {"domain": [-14, 14], "nice": false, "zero": false}, "axis": null}, "text": {"field": "l", "type": "nominal"}}},
 {"data": {"name": "al"}, "transform": [{"filter": "datum.b == 1"}, {"calculate": "14*(216+abs(cos(datum.t*PI/180))*4.15*length(datum.l)+abs(sin(datum.t*PI/180))*5.5)/205", "as": "rr"}, {"calculate": "datum.rr*cos(datum.t*PI/180)", "as": "x"}, {"calculate": "datum.rr*sin(datum.t*PI/180)", "as": "y"}], "mark": {"type": "text", "fontSize": 16, "fontWeight": "bold", "color": "#262626"}, "encoding": {"x": {"field": "x", "type": "quantitative", "scale": {"domain": [-14, 14], "nice": false, "zero": false}, "axis": null}, "y": {"field": "y", "type": "quantitative", "scale": {"domain": [-14, 14], "nice": false, "zero": false}, "axis": null}, "text": {"field": "l", "type": "nominal"}}},
 {"data": {"name": "rt"}, "transform": [{"filter": "datum.p == 1"}, {"calculate": "datum.v*cos(80*PI/180)", "as": "x"}, {"calculate": "datum.v*sin(80*PI/180)", "as": "y"}], "mark": {"type": "text", "fontSize": 15, "color": "#262626"}, "encoding": {"x": {"field": "x", "type": "quantitative", "scale": {"domain": [-14, 14], "nice": false, "zero": false}, "axis": null}, "y": {"field": "y", "type": "quantitative", "scale": {"domain": [-14, 14], "nice": false, "zero": false}, "axis": null}, "text": {"field": "l", "type": "nominal"}}},
 {"data": {"name": "c"}, "transform": [{"filter": "datum.p == 1"}, {"calculate": "datum.r*cos(datum.a*PI/180)", "as": "x"}, {"calculate": "datum.r*sin(datum.a*PI/180)", "as": "y"}], "mark": {"type": "line", "strokeWidth": 2, "strokeJoin": "round"}, "encoding": {"x": {"field": "x", "type": "quantitative", "scale": {"domain": [-14, 14], "nice": false, "zero": false}, "axis": null}, "y": {"field": "y", "type": "quantitative", "scale": {"domain": [-14, 14], "nice": false, "zero": false}, "axis": null}, "order": {"field": "a", "type": "quantitative"}, "color": {"field": "s", "type": "nominal", "scale": {"domain": [0, 1, 2], "range": ["#0072BD", "#D95319", "#EDB120"]}, "legend": {"title": null, "orient": "none", "legendX": -83, "legendY": -34, "symbolType": "stroke", "symbolSize": 2200, "symbolStrokeWidth": 2, "clipHeight": 17, "rowPadding": 8, "padding": 5.5, "labelFont": "Liberation Sans, DejaVu Sans", "labelFontSize": 15, "labelColor": "#000000", "labelOffset": 5, "labelLimit": 200, "fillColor": "#ffffff", "strokeColor": "#7a7a7a", "labelExpr": "datum.value == 0 ? '0ᵗʰ approx.' : datum.value == 1 ? '1ˢᵗ approx.' : '2ⁿᵈ approx.'"}}}},
 {"data": {"name": "tt"}, "transform": [{"filter": "datum.p == 1 && datum.k == 'a'"}, {"calculate": "0", "as": "x"}, {"calculate": "14", "as": "y"}], "mark": {"type": "text", "fontSize": 18.5, "fontWeight": "bold", "align": "right", "baseline": "alphabetic", "dx": -145, "dy": -41, "color": "#000000"}, "encoding": {"x": {"field": "x", "type": "quantitative", "scale": {"domain": [-14, 14], "nice": false, "zero": false}, "axis": null}, "y": {"field": "y", "type": "quantitative", "scale": {"domain": [-14, 14], "nice": false, "zero": false}, "axis": null}, "text": {"field": "l", "type": "nominal"}}},
 {"data": {"name": "tt"}, "transform": [{"filter": "datum.p == 1 && datum.k == 'g'"}, {"calculate": "0", "as": "x"}, {"calculate": "14", "as": "y"}], "mark": {"type": "text", "font": "Liberation Serif", "fontStyle": "italic", "fontSize": 19, "align": "left", "baseline": "alphabetic", "dx": -137, "dy": -41, "color": "#000000"}, "encoding": {"x": {"field": "x", "type": "quantitative", "scale": {"domain": [-14, 14], "nice": false, "zero": false}, "axis": null}, "y": {"field": "y", "type": "quantitative", "scale": {"domain": [-14, 14], "nice": false, "zero": false}, "axis": null}, "text": {"field": "l", "type": "nominal"}}},
 {"data": {"name": "tt"}, "transform": [{"filter": "datum.p == 1 && datum.k == 's'"}, {"calculate": "0", "as": "x"}, {"calculate": "14", "as": "y"}], "mark": {"type": "text", "fontSize": 14, "fontWeight": "bold", "align": "left", "baseline": "alphabetic", "dx": -124, "dy": -35, "color": "#000000"}, "encoding": {"x": {"field": "x", "type": "quantitative", "scale": {"domain": [-14, 14], "nice": false, "zero": false}, "axis": null}, "y": {"field": "y", "type": "quantitative", "scale": {"domain": [-14, 14], "nice": false, "zero": false}, "axis": null}, "text": {"field": "l", "type": "nominal"}}},
 {"data": {"name": "tt"}, "transform": [{"filter": "datum.p == 1 && datum.k == 'r'"}, {"calculate": "0", "as": "x"}, {"calculate": "14", "as": "y"}], "mark": {"type": "text", "fontSize": 18.5, "fontWeight": "bold", "align": "left", "baseline": "alphabetic", "dx": -82, "dy": -41, "color": "#000000"}, "encoding": {"x": {"field": "x", "type": "quantitative", "scale": {"domain": [-14, 14], "nice": false, "zero": false}, "axis": null}, "y": {"field": "y", "type": "quantitative", "scale": {"domain": [-14, 14], "nice": false, "zero": false}, "axis": null}, "text": {"field": "l", "type": "nominal"}}}
]},
{"width": 410, "height": 410, "layer": [
 {"data": {"name": "g"}, "transform": [{"filter": "datum.p == 2"}, {"calculate": "0", "as": "cx"}], "mark": {"type": "point", "shape": "circle", "filled": false, "opacity": 1, "strokeWidth": 1}, "encoding": {"x": {"field": "cx", "type": "quantitative", "scale": {"domain": [-12, 12], "nice": false, "zero": false}, "axis": null}, "y": {"field": "cx", "type": "quantitative", "scale": {"domain": [-12, 12], "nice": false, "zero": false}, "axis": null}, "size": {"field": "r", "type": "quantitative", "scale": {"type": "pow", "exponent": 2, "domain": [0, 12], "range": [0, 168100], "zero": true, "nice": false}, "legend": null}, "stroke": {"condition": {"test": "datum.o == 1", "value": "#c6c6c6"}, "value": "#e2e2e2"}}},
 {"data": {"name": "sp"}, "transform": [{"calculate": "[0, 1]", "as": "k"}, {"flatten": ["k"]}, {"calculate": "datum.k*12*cos(datum.t*PI/180)", "as": "x"}, {"calculate": "datum.k*12*sin(datum.t*PI/180)", "as": "y"}], "mark": {"type": "line", "stroke": "#e2e2e2", "strokeWidth": 1}, "encoding": {"x": {"field": "x", "type": "quantitative", "scale": {"domain": [-12, 12], "nice": false, "zero": false}, "axis": null}, "y": {"field": "y", "type": "quantitative", "scale": {"domain": [-12, 12], "nice": false, "zero": false}, "axis": null}, "detail": {"field": "t", "type": "nominal"}, "order": {"field": "k", "type": "quantitative"}}},
 {"data": {"name": "al"}, "transform": [{"filter": "datum.b == 0"}, {"calculate": "12*(216+abs(cos(datum.t*PI/180))*4.15*length(datum.l)+abs(sin(datum.t*PI/180))*5.5)/205", "as": "rr"}, {"calculate": "datum.rr*cos(datum.t*PI/180)", "as": "x"}, {"calculate": "datum.rr*sin(datum.t*PI/180)", "as": "y"}], "mark": {"type": "text", "fontSize": 15, "color": "#262626"}, "encoding": {"x": {"field": "x", "type": "quantitative", "scale": {"domain": [-12, 12], "nice": false, "zero": false}, "axis": null}, "y": {"field": "y", "type": "quantitative", "scale": {"domain": [-12, 12], "nice": false, "zero": false}, "axis": null}, "text": {"field": "l", "type": "nominal"}}},
 {"data": {"name": "al"}, "transform": [{"filter": "datum.b == 1"}, {"calculate": "12*(216+abs(cos(datum.t*PI/180))*4.15*length(datum.l)+abs(sin(datum.t*PI/180))*5.5)/205", "as": "rr"}, {"calculate": "datum.rr*cos(datum.t*PI/180)", "as": "x"}, {"calculate": "datum.rr*sin(datum.t*PI/180)", "as": "y"}], "mark": {"type": "text", "fontSize": 16, "fontWeight": "bold", "color": "#262626"}, "encoding": {"x": {"field": "x", "type": "quantitative", "scale": {"domain": [-12, 12], "nice": false, "zero": false}, "axis": null}, "y": {"field": "y", "type": "quantitative", "scale": {"domain": [-12, 12], "nice": false, "zero": false}, "axis": null}, "text": {"field": "l", "type": "nominal"}}},
 {"data": {"name": "rt"}, "transform": [{"filter": "datum.p == 2"}, {"calculate": "datum.v*cos(80*PI/180)", "as": "x"}, {"calculate": "datum.v*sin(80*PI/180)", "as": "y"}], "mark": {"type": "text", "fontSize": 15, "color": "#262626"}, "encoding": {"x": {"field": "x", "type": "quantitative", "scale": {"domain": [-12, 12], "nice": false, "zero": false}, "axis": null}, "y": {"field": "y", "type": "quantitative", "scale": {"domain": [-12, 12], "nice": false, "zero": false}, "axis": null}, "text": {"field": "l", "type": "nominal"}}},
 {"data": {"name": "c"}, "transform": [{"filter": "datum.p == 2"}, {"calculate": "datum.r*cos(datum.a*PI/180)", "as": "x"}, {"calculate": "datum.r*sin(datum.a*PI/180)", "as": "y"}], "mark": {"type": "line", "strokeWidth": 2, "strokeJoin": "round"}, "encoding": {"x": {"field": "x", "type": "quantitative", "scale": {"domain": [-12, 12], "nice": false, "zero": false}, "axis": null}, "y": {"field": "y", "type": "quantitative", "scale": {"domain": [-12, 12], "nice": false, "zero": false}, "axis": null}, "order": {"field": "a", "type": "quantitative"}, "color": {"field": "s", "type": "nominal", "scale": {"domain": [0, 1, 2], "range": ["#0072BD", "#D95319", "#EDB120"]}, "legend": {"title": null, "orient": "none", "legendX": -83, "legendY": -34, "symbolType": "stroke", "symbolSize": 2200, "symbolStrokeWidth": 2, "clipHeight": 17, "rowPadding": 8, "padding": 5.5, "labelFont": "Liberation Sans, DejaVu Sans", "labelFontSize": 15, "labelColor": "#000000", "labelOffset": 5, "labelLimit": 200, "fillColor": "#ffffff", "strokeColor": "#7a7a7a", "labelExpr": "datum.value == 0 ? '0ᵗʰ approx.' : datum.value == 1 ? '1ˢᵗ approx.' : '2ⁿᵈ approx.'"}}}},
 {"data": {"name": "tt"}, "transform": [{"filter": "datum.p == 2 && datum.k == 'a'"}, {"calculate": "0", "as": "x"}, {"calculate": "12", "as": "y"}], "mark": {"type": "text", "fontSize": 18.5, "fontWeight": "bold", "align": "right", "baseline": "alphabetic", "dx": -145, "dy": -41, "color": "#000000"}, "encoding": {"x": {"field": "x", "type": "quantitative", "scale": {"domain": [-12, 12], "nice": false, "zero": false}, "axis": null}, "y": {"field": "y", "type": "quantitative", "scale": {"domain": [-12, 12], "nice": false, "zero": false}, "axis": null}, "text": {"field": "l", "type": "nominal"}}},
 {"data": {"name": "tt"}, "transform": [{"filter": "datum.p == 2 && datum.k == 'g'"}, {"calculate": "0", "as": "x"}, {"calculate": "12", "as": "y"}], "mark": {"type": "text", "font": "Liberation Serif", "fontStyle": "italic", "fontSize": 19, "align": "left", "baseline": "alphabetic", "dx": -137, "dy": -41, "color": "#000000"}, "encoding": {"x": {"field": "x", "type": "quantitative", "scale": {"domain": [-12, 12], "nice": false, "zero": false}, "axis": null}, "y": {"field": "y", "type": "quantitative", "scale": {"domain": [-12, 12], "nice": false, "zero": false}, "axis": null}, "text": {"field": "l", "type": "nominal"}}},
 {"data": {"name": "tt"}, "transform": [{"filter": "datum.p == 2 && datum.k == 's'"}, {"calculate": "0", "as": "x"}, {"calculate": "12", "as": "y"}], "mark": {"type": "text", "fontSize": 14, "fontWeight": "bold", "align": "left", "baseline": "alphabetic", "dx": -124, "dy": -35, "color": "#000000"}, "encoding": {"x": {"field": "x", "type": "quantitative", "scale": {"domain": [-12, 12], "nice": false, "zero": false}, "axis": null}, "y": {"field": "y", "type": "quantitative", "scale": {"domain": [-12, 12], "nice": false, "zero": false}, "axis": null}, "text": {"field": "l", "type": "nominal"}}},
 {"data": {"name": "tt"}, "transform": [{"filter": "datum.p == 2 && datum.k == 'r'"}, {"calculate": "0", "as": "x"}, {"calculate": "12", "as": "y"}], "mark": {"type": "text", "fontSize": 18.5, "fontWeight": "bold", "align": "left", "baseline": "alphabetic", "dx": -82, "dy": -41, "color": "#000000"}, "encoding": {"x": {"field": "x", "type": "quantitative", "scale": {"domain": [-12, 12], "nice": false, "zero": false}, "axis": null}, "y": {"field": "y", "type": "quantitative", "scale": {"domain": [-12, 12], "nice": false, "zero": false}, "axis": null}, "text": {"field": "l", "type": "nominal"}}}
]},
{"width": 410, "height": 410, "layer": [
 {"data": {"name": "g"}, "transform": [{"filter": "datum.p == 3"}, {"calculate": "0", "as": "cx"}], "mark": {"type": "point", "shape": "circle", "filled": false, "opacity": 1, "strokeWidth": 1}, "encoding": {"x": {"field": "cx", "type": "quantitative", "scale": {"domain": [-50, 50], "nice": false, "zero": false}, "axis": null}, "y": {"field": "cx", "type": "quantitative", "scale": {"domain": [-50, 50], "nice": false, "zero": false}, "axis": null}, "size": {"field": "r", "type": "quantitative", "scale": {"type": "pow", "exponent": 2, "domain": [0, 50], "range": [0, 168100], "zero": true, "nice": false}, "legend": null}, "stroke": {"condition": {"test": "datum.o == 1", "value": "#c6c6c6"}, "value": "#e2e2e2"}}},
 {"data": {"name": "sp"}, "transform": [{"calculate": "[0, 1]", "as": "k"}, {"flatten": ["k"]}, {"calculate": "datum.k*50*cos(datum.t*PI/180)", "as": "x"}, {"calculate": "datum.k*50*sin(datum.t*PI/180)", "as": "y"}], "mark": {"type": "line", "stroke": "#e2e2e2", "strokeWidth": 1}, "encoding": {"x": {"field": "x", "type": "quantitative", "scale": {"domain": [-50, 50], "nice": false, "zero": false}, "axis": null}, "y": {"field": "y", "type": "quantitative", "scale": {"domain": [-50, 50], "nice": false, "zero": false}, "axis": null}, "detail": {"field": "t", "type": "nominal"}, "order": {"field": "k", "type": "quantitative"}}},
 {"data": {"name": "al"}, "transform": [{"filter": "datum.b == 0"}, {"calculate": "50*(216+abs(cos(datum.t*PI/180))*4.15*length(datum.l)+abs(sin(datum.t*PI/180))*5.5)/205", "as": "rr"}, {"calculate": "datum.rr*cos(datum.t*PI/180)", "as": "x"}, {"calculate": "datum.rr*sin(datum.t*PI/180)", "as": "y"}], "mark": {"type": "text", "fontSize": 15, "color": "#262626"}, "encoding": {"x": {"field": "x", "type": "quantitative", "scale": {"domain": [-50, 50], "nice": false, "zero": false}, "axis": null}, "y": {"field": "y", "type": "quantitative", "scale": {"domain": [-50, 50], "nice": false, "zero": false}, "axis": null}, "text": {"field": "l", "type": "nominal"}}},
 {"data": {"name": "al"}, "transform": [{"filter": "datum.b == 1"}, {"calculate": "50*(216+abs(cos(datum.t*PI/180))*4.15*length(datum.l)+abs(sin(datum.t*PI/180))*5.5)/205", "as": "rr"}, {"calculate": "datum.rr*cos(datum.t*PI/180)", "as": "x"}, {"calculate": "datum.rr*sin(datum.t*PI/180)", "as": "y"}], "mark": {"type": "text", "fontSize": 16, "fontWeight": "bold", "color": "#262626"}, "encoding": {"x": {"field": "x", "type": "quantitative", "scale": {"domain": [-50, 50], "nice": false, "zero": false}, "axis": null}, "y": {"field": "y", "type": "quantitative", "scale": {"domain": [-50, 50], "nice": false, "zero": false}, "axis": null}, "text": {"field": "l", "type": "nominal"}}},
 {"data": {"name": "rt"}, "transform": [{"filter": "datum.p == 3"}, {"calculate": "datum.v*cos(80*PI/180)", "as": "x"}, {"calculate": "datum.v*sin(80*PI/180)", "as": "y"}], "mark": {"type": "text", "fontSize": 15, "color": "#262626"}, "encoding": {"x": {"field": "x", "type": "quantitative", "scale": {"domain": [-50, 50], "nice": false, "zero": false}, "axis": null}, "y": {"field": "y", "type": "quantitative", "scale": {"domain": [-50, 50], "nice": false, "zero": false}, "axis": null}, "text": {"field": "l", "type": "nominal"}}},
 {"data": {"name": "c"}, "transform": [{"filter": "datum.p == 3"}, {"calculate": "datum.r*cos(datum.a*PI/180)", "as": "x"}, {"calculate": "datum.r*sin(datum.a*PI/180)", "as": "y"}], "mark": {"type": "line", "strokeWidth": 2, "strokeJoin": "round"}, "encoding": {"x": {"field": "x", "type": "quantitative", "scale": {"domain": [-50, 50], "nice": false, "zero": false}, "axis": null}, "y": {"field": "y", "type": "quantitative", "scale": {"domain": [-50, 50], "nice": false, "zero": false}, "axis": null}, "order": {"field": "a", "type": "quantitative"}, "color": {"field": "s", "type": "nominal", "scale": {"domain": [0, 1, 2], "range": ["#0072BD", "#D95319", "#EDB120"]}, "legend": {"title": null, "orient": "none", "legendX": -83, "legendY": -34, "symbolType": "stroke", "symbolSize": 2200, "symbolStrokeWidth": 2, "clipHeight": 17, "rowPadding": 8, "padding": 5.5, "labelFont": "Liberation Sans, DejaVu Sans", "labelFontSize": 15, "labelColor": "#000000", "labelOffset": 5, "labelLimit": 200, "fillColor": "#ffffff", "strokeColor": "#7a7a7a", "labelExpr": "datum.value == 0 ? '0ᵗʰ approx.' : datum.value == 1 ? '1ˢᵗ approx.' : '2ⁿᵈ approx.'"}}}},
 {"data": {"name": "tt"}, "transform": [{"filter": "datum.p == 3 && datum.k == 'a'"}, {"calculate": "0", "as": "x"}, {"calculate": "50", "as": "y"}], "mark": {"type": "text", "fontSize": 18.5, "fontWeight": "bold", "align": "right", "baseline": "alphabetic", "dx": -145, "dy": -41, "color": "#000000"}, "encoding": {"x": {"field": "x", "type": "quantitative", "scale": {"domain": [-50, 50], "nice": false, "zero": false}, "axis": null}, "y": {"field": "y", "type": "quantitative", "scale": {"domain": [-50, 50], "nice": false, "zero": false}, "axis": null}, "text": {"field": "l", "type": "nominal"}}},
 {"data": {"name": "tt"}, "transform": [{"filter": "datum.p == 3 && datum.k == 'g'"}, {"calculate": "0", "as": "x"}, {"calculate": "50", "as": "y"}], "mark": {"type": "text", "font": "Liberation Serif", "fontStyle": "italic", "fontSize": 19, "align": "left", "baseline": "alphabetic", "dx": -137, "dy": -41, "color": "#000000"}, "encoding": {"x": {"field": "x", "type": "quantitative", "scale": {"domain": [-50, 50], "nice": false, "zero": false}, "axis": null}, "y": {"field": "y", "type": "quantitative", "scale": {"domain": [-50, 50], "nice": false, "zero": false}, "axis": null}, "text": {"field": "l", "type": "nominal"}}},
 {"data": {"name": "tt"}, "transform": [{"filter": "datum.p == 3 && datum.k == 's'"}, {"calculate": "0", "as": "x"}, {"calculate": "50", "as": "y"}], "mark": {"type": "text", "fontSize": 14, "fontWeight": "bold", "align": "left", "baseline": "alphabetic", "dx": -124, "dy": -35, "color": "#000000"}, "encoding": {"x": {"field": "x", "type": "quantitative", "scale": {"domain": [-50, 50], "nice": false, "zero": false}, "axis": null}, "y": {"field": "y", "type": "quantitative", "scale": {"domain": [-50, 50], "nice": false, "zero": false}, "axis": null}, "text": {"field": "l", "type": "nominal"}}},
 {"data": {"name": "tt"}, "transform": [{"filter": "datum.p == 3 && datum.k == 'r'"}, {"calculate": "0", "as": "x"}, {"calculate": "50", "as": "y"}], "mark": {"type": "text", "fontSize": 18.5, "fontWeight": "bold", "align": "left", "baseline": "alphabetic", "dx": -82, "dy": -41, "color": "#000000"}, "encoding": {"x": {"field": "x", "type": "quantitative", "scale": {"domain": [-50, 50], "nice": false, "zero": false}, "axis": null}, "y": {"field": "y", "type": "quantitative", "scale": {"domain": [-50, 50], "nice": false, "zero": false}, "axis": null}, "text": {"field": "l", "type": "nominal"}}}
]},
{"width": 410, "height": 410, "layer": [
 {"data": {"name": "g"}, "transform": [{"filter": "datum.p == 4"}, {"calculate": "0", "as": "cx"}], "mark": {"type": "point", "shape": "circle", "filled": false, "opacity": 1, "strokeWidth": 1}, "encoding": {"x": {"field": "cx", "type": "quantitative", "scale": {"domain": [-45, 45], "nice": false, "zero": false}, "axis": null}, "y": {"field": "cx", "type": "quantitative", "scale": {"domain": [-45, 45], "nice": false, "zero": false}, "axis": null}, "size": {"field": "r", "type": "quantitative", "scale": {"type": "pow", "exponent": 2, "domain": [0, 45], "range": [0, 168100], "zero": true, "nice": false}, "legend": null}, "stroke": {"condition": {"test": "datum.o == 1", "value": "#c6c6c6"}, "value": "#e2e2e2"}}},
 {"data": {"name": "sp"}, "transform": [{"calculate": "[0, 1]", "as": "k"}, {"flatten": ["k"]}, {"calculate": "datum.k*45*cos(datum.t*PI/180)", "as": "x"}, {"calculate": "datum.k*45*sin(datum.t*PI/180)", "as": "y"}], "mark": {"type": "line", "stroke": "#e2e2e2", "strokeWidth": 1}, "encoding": {"x": {"field": "x", "type": "quantitative", "scale": {"domain": [-45, 45], "nice": false, "zero": false}, "axis": null}, "y": {"field": "y", "type": "quantitative", "scale": {"domain": [-45, 45], "nice": false, "zero": false}, "axis": null}, "detail": {"field": "t", "type": "nominal"}, "order": {"field": "k", "type": "quantitative"}}},
 {"data": {"name": "al"}, "transform": [{"filter": "datum.b == 0"}, {"calculate": "45*(216+abs(cos(datum.t*PI/180))*4.15*length(datum.l)+abs(sin(datum.t*PI/180))*5.5)/205", "as": "rr"}, {"calculate": "datum.rr*cos(datum.t*PI/180)", "as": "x"}, {"calculate": "datum.rr*sin(datum.t*PI/180)", "as": "y"}], "mark": {"type": "text", "fontSize": 15, "color": "#262626"}, "encoding": {"x": {"field": "x", "type": "quantitative", "scale": {"domain": [-45, 45], "nice": false, "zero": false}, "axis": null}, "y": {"field": "y", "type": "quantitative", "scale": {"domain": [-45, 45], "nice": false, "zero": false}, "axis": null}, "text": {"field": "l", "type": "nominal"}}},
 {"data": {"name": "al"}, "transform": [{"filter": "datum.b == 1"}, {"calculate": "45*(216+abs(cos(datum.t*PI/180))*4.15*length(datum.l)+abs(sin(datum.t*PI/180))*5.5)/205", "as": "rr"}, {"calculate": "datum.rr*cos(datum.t*PI/180)", "as": "x"}, {"calculate": "datum.rr*sin(datum.t*PI/180)", "as": "y"}], "mark": {"type": "text", "fontSize": 16, "fontWeight": "bold", "color": "#262626"}, "encoding": {"x": {"field": "x", "type": "quantitative", "scale": {"domain": [-45, 45], "nice": false, "zero": false}, "axis": null}, "y": {"field": "y", "type": "quantitative", "scale": {"domain": [-45, 45], "nice": false, "zero": false}, "axis": null}, "text": {"field": "l", "type": "nominal"}}},
 {"data": {"name": "rt"}, "transform": [{"filter": "datum.p == 4"}, {"calculate": "datum.v*cos(80*PI/180)", "as": "x"}, {"calculate": "datum.v*sin(80*PI/180)", "as": "y"}], "mark": {"type": "text", "fontSize": 15, "color": "#262626"}, "encoding": {"x": {"field": "x", "type": "quantitative", "scale": {"domain": [-45, 45], "nice": false, "zero": false}, "axis": null}, "y": {"field": "y", "type": "quantitative", "scale": {"domain": [-45, 45], "nice": false, "zero": false}, "axis": null}, "text": {"field": "l", "type": "nominal"}}},
 {"data": {"name": "c"}, "transform": [{"filter": "datum.p == 4"}, {"calculate": "datum.r*cos(datum.a*PI/180)", "as": "x"}, {"calculate": "datum.r*sin(datum.a*PI/180)", "as": "y"}], "mark": {"type": "line", "strokeWidth": 2, "strokeJoin": "round"}, "encoding": {"x": {"field": "x", "type": "quantitative", "scale": {"domain": [-45, 45], "nice": false, "zero": false}, "axis": null}, "y": {"field": "y", "type": "quantitative", "scale": {"domain": [-45, 45], "nice": false, "zero": false}, "axis": null}, "order": {"field": "a", "type": "quantitative"}, "color": {"field": "s", "type": "nominal", "scale": {"domain": [0, 1, 2], "range": ["#0072BD", "#D95319", "#EDB120"]}, "legend": {"title": null, "orient": "none", "legendX": -83, "legendY": -34, "symbolType": "stroke", "symbolSize": 2200, "symbolStrokeWidth": 2, "clipHeight": 17, "rowPadding": 8, "padding": 5.5, "labelFont": "Liberation Sans, DejaVu Sans", "labelFontSize": 15, "labelColor": "#000000", "labelOffset": 5, "labelLimit": 200, "fillColor": "#ffffff", "strokeColor": "#7a7a7a", "labelExpr": "datum.value == 0 ? '0ᵗʰ approx.' : datum.value == 1 ? '1ˢᵗ approx.' : '2ⁿᵈ approx.'"}}}},
 {"data": {"name": "tt"}, "transform": [{"filter": "datum.p == 4 && datum.k == 'a'"}, {"calculate": "0", "as": "x"}, {"calculate": "45", "as": "y"}], "mark": {"type": "text", "fontSize": 18.5, "fontWeight": "bold", "align": "right", "baseline": "alphabetic", "dx": -145, "dy": -41, "color": "#000000"}, "encoding": {"x": {"field": "x", "type": "quantitative", "scale": {"domain": [-45, 45], "nice": false, "zero": false}, "axis": null}, "y": {"field": "y", "type": "quantitative", "scale": {"domain": [-45, 45], "nice": false, "zero": false}, "axis": null}, "text": {"field": "l", "type": "nominal"}}},
 {"data": {"name": "tt"}, "transform": [{"filter": "datum.p == 4 && datum.k == 'g'"}, {"calculate": "0", "as": "x"}, {"calculate": "45", "as": "y"}], "mark": {"type": "text", "font": "Liberation Serif", "fontStyle": "italic", "fontSize": 19, "align": "left", "baseline": "alphabetic", "dx": -137, "dy": -41, "color": "#000000"}, "encoding": {"x": {"field": "x", "type": "quantitative", "scale": {"domain": [-45, 45], "nice": false, "zero": false}, "axis": null}, "y": {"field": "y", "type": "quantitative", "scale": {"domain": [-45, 45], "nice": false, "zero": false}, "axis": null}, "text": {"field": "l", "type": "nominal"}}},
 {"data": {"name": "tt"}, "transform": [{"filter": "datum.p == 4 && datum.k == 's'"}, {"calculate": "0", "as": "x"}, {"calculate": "45", "as": "y"}], "mark": {"type": "text", "fontSize": 14, "fontWeight": "bold", "align": "left", "baseline": "alphabetic", "dx": -124, "dy": -35, "color": "#000000"}, "encoding": {"x": {"field": "x", "type": "quantitative", "scale": {"domain": [-45, 45], "nice": false, "zero": false}, "axis": null}, "y": {"field": "y", "type": "quantitative", "scale": {"domain": [-45, 45], "nice": false, "zero": false}, "axis": null}, "text": {"field": "l", "type": "nominal"}}},
 {"data": {"name": "tt"}, "transform": [{"filter": "datum.p == 4 && datum.k == 'r'"}, {"calculate": "0", "as": "x"}, {"calculate": "45", "as": "y"}], "mark": {"type": "text", "fontSize": 18.5, "fontWeight": "bold", "align": "left", "baseline": "alphabetic", "dx": -82, "dy": -41, "color": "#000000"}, "encoding": {"x": {"field": "x", "type": "quantitative", "scale": {"domain": [-45, 45], "nice": false, "zero": false}, "axis": null}, "y": {"field": "y", "type": "quantitative", "scale": {"domain": [-45, 45], "nice": false, "zero": false}, "axis": null}, "text": {"field": "l", "type": "nominal"}}}
]}
]
}
